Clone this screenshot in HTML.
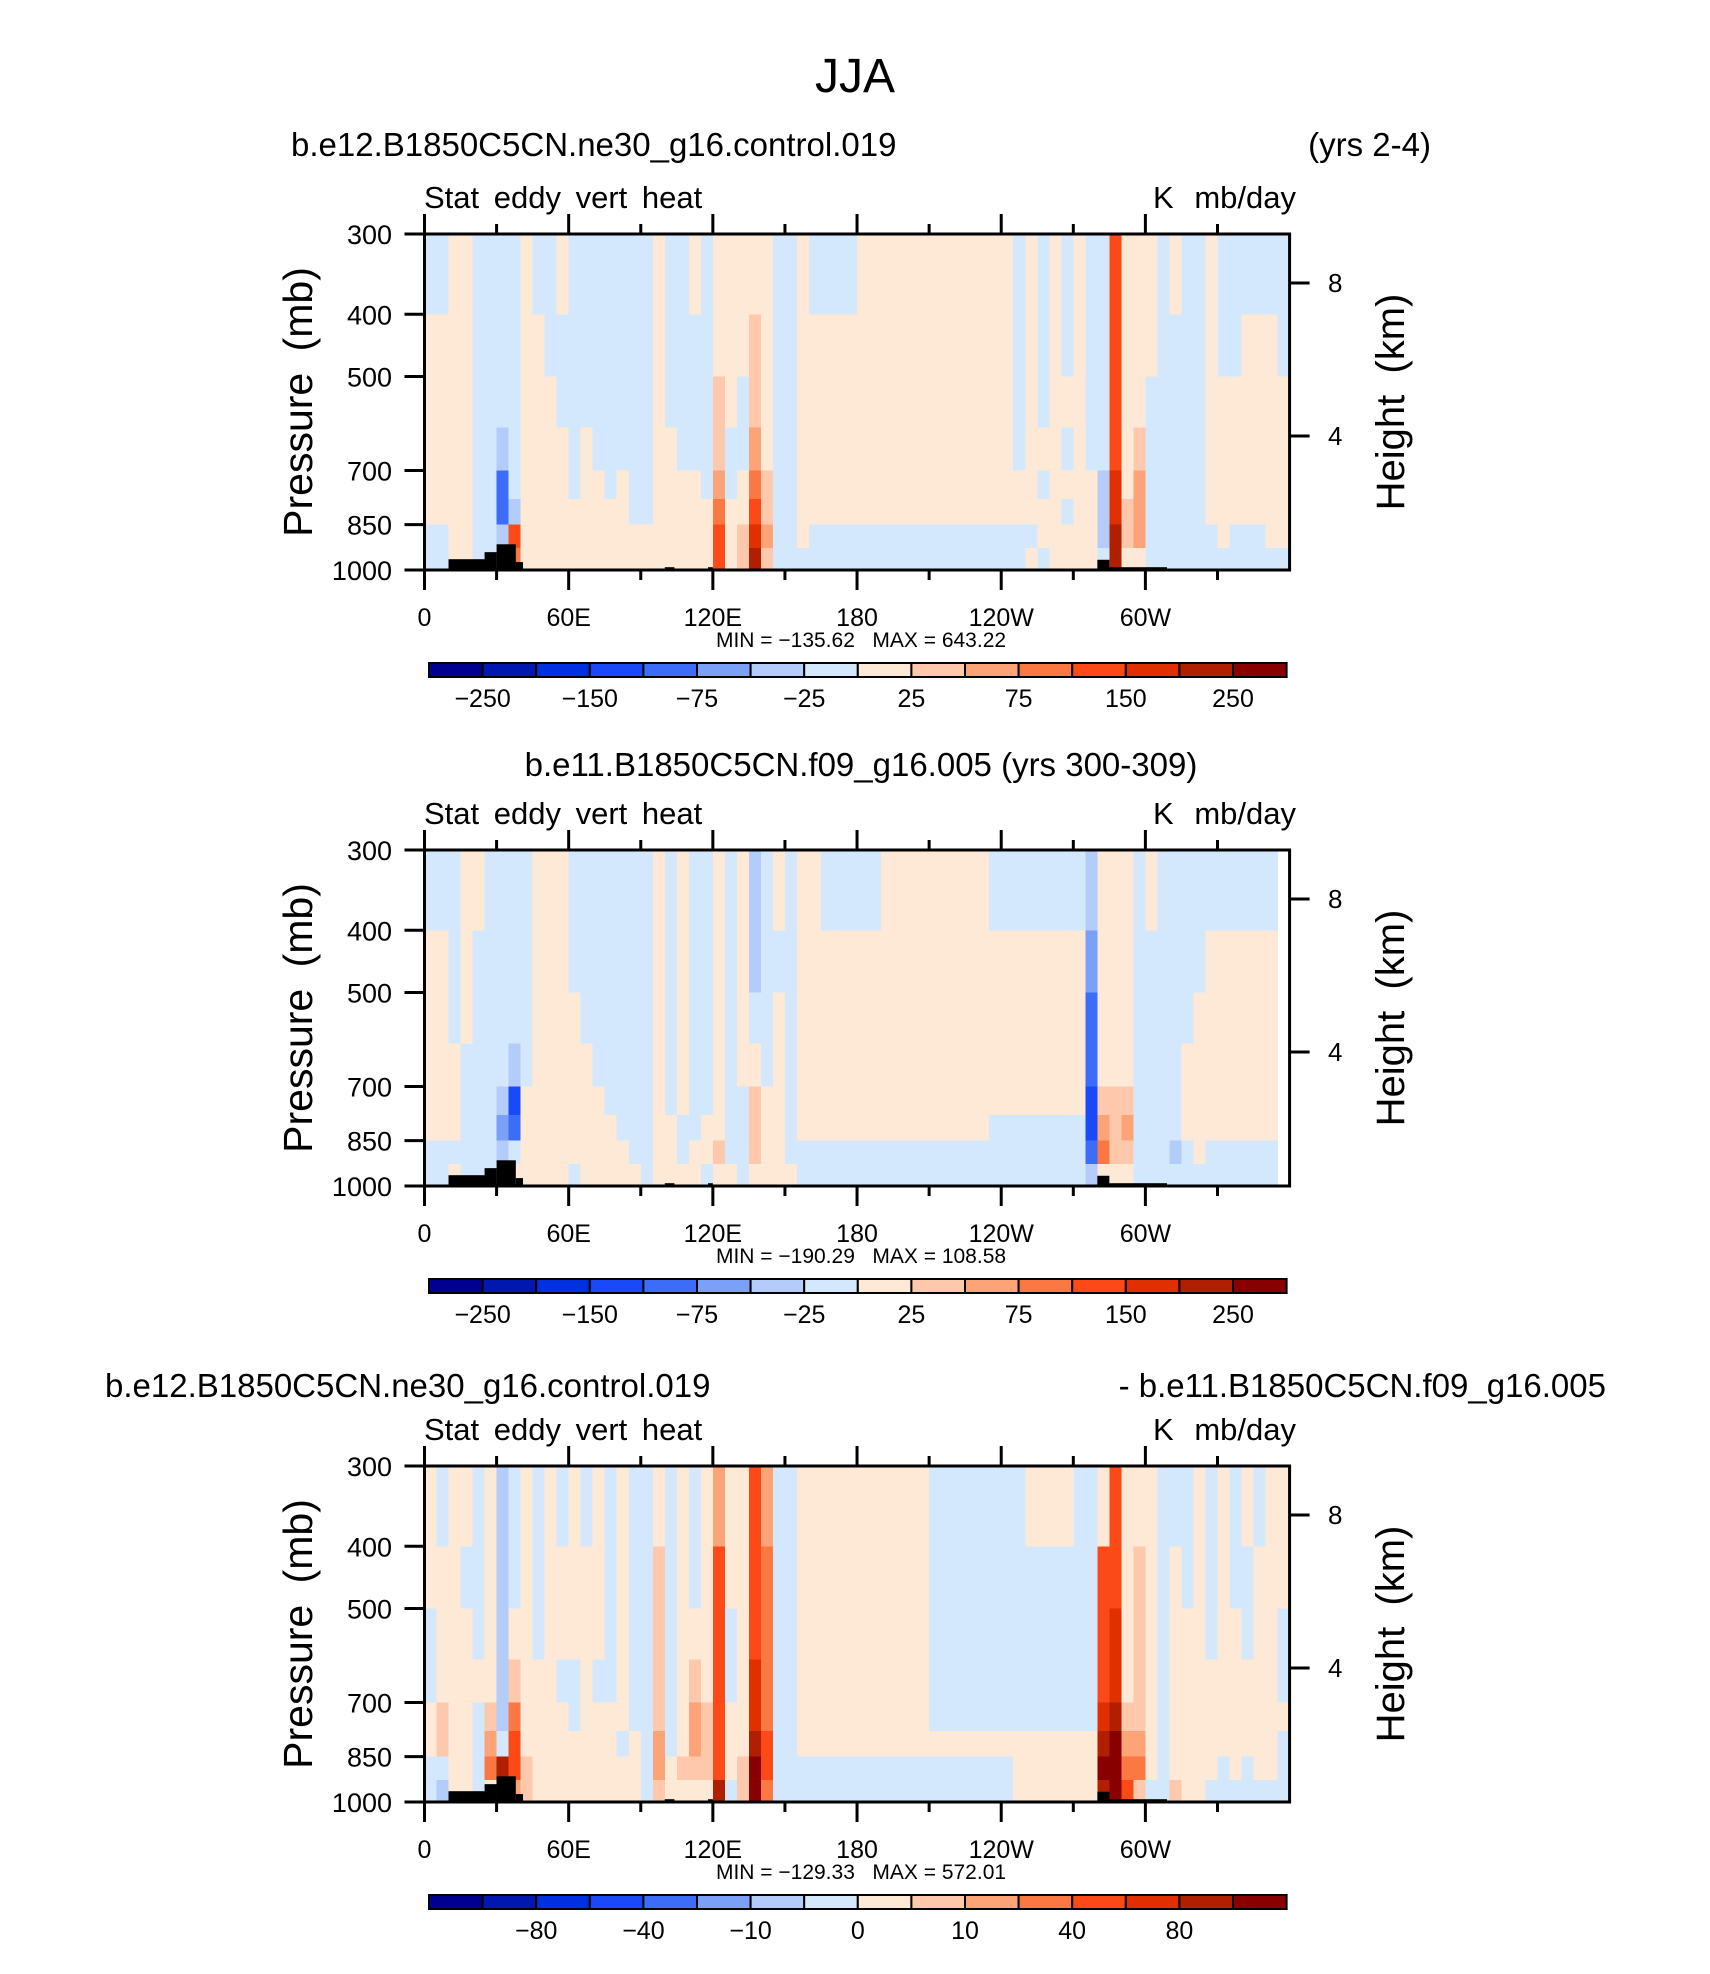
<!DOCTYPE html>
<html><head><meta charset="utf-8"><style>
html,body{margin:0;padding:0;background:#fff}
svg{display:block}
text{font-family:"Liberation Sans",sans-serif;fill:#000}
</style></head><body>
<svg id="chart" width="1710" height="1974" viewBox="0 0 1710 1974" xmlns="http://www.w3.org/2000/svg">
<text x="855" y="92" font-size="48" text-anchor="middle">JJA</text>
<text x="291" y="156" font-size="33">b.e12.B1850C5CN.ne30_g16.control.019</text>
<text x="1431" y="156" font-size="33" text-anchor="end">(yrs 2-4)</text>
<text x="861" y="776" font-size="33" text-anchor="middle">b.e11.B1850C5CN.f09_g16.005 (yrs 300-309)</text>
<text x="105" y="1397" font-size="33">b.e12.B1850C5CN.ne30_g16.control.019</text>
<text x="1606" y="1397" font-size="33" text-anchor="end">- b.e11.B1850C5CN.f09_g16.005</text>
<g id="panels"></g>
</svg>
<script>
// ---- data ----
const lonStep = 5;
const pressureEdges = [300,400,500,600,700,775,850,925,1000];
const pressureTicks = [300,400,500,700,850,1000];
const heightTicks = ["8","4"];
const lonTickValues = [0,60,120,180,240,300];
const lonTickLabels = ["0","60E","120E","180","120W","60W"];
const palette = ['#000090','#0018b0','#0030e0','#1a4af8','#3c6cf8','#7aa0f8','#b4ccfa','#d4e8fd','#fee9d6','#fdc8ac','#fca478','#fc7842','#fb4a17','#e03000','#b02000','#880000'];
const cbLabels1 = ["−250","−150","−75","−25","25","75","150","250"];
const cbLabels3 = ["−80","−40","−10","0","10","40","80"];
const minMax1 = ["−135.62","643.22"];
const minMax2 = ["−190.29","108.58"];
const minMax3 = ["−129.33","572.01"];
// topography: start lon, end lon, top pressure
const topoStart = [10,25,30,38,100,118,280,285];
const topoEnd = [26,30,38,41,104,120,285,309];
const topoTop = [962,938,912,972,990,990,964,990];
// class index per 5-degree column (top->bottom layers), hex digit 0-f
const panel1Cols = ["78888877","78888877","88888888","88888888","77777777","77777777","77764467","777776cb",
"88888888","78888888","77888888","87788888","77777888","77788888","77778888","77777888","77778888","77777788","77777788",
"88888888","77788888","77778888","87778888","77777888","8899abcc","88877888","88778899","899abcde","888899a9","77777777","77777777",
"88888887","78888877","78888877","78888877","78888877","88888877","88888877","88888877","88888877","88888877","88888877","88888877","88888877","88888877","88888877","88888877","88888877","88888877",
"77778877","88888878","77787887","88888888","77878788","88888888","77778888",
"77776667","ccccddee","88888998","8889aaa8","88777777","77777777","87777777","77777777","77777777",
"88888877","77888887","77888877","78888877","78888877","78888887","77888887"];
const panel2Cols = ["78888877","78888877","77788878","88877777","87777777","77777777","77776567","77763478",
"77778888","88888888","88888888","88888888","77888887","77788888","77778888","77777888","77777788","77777778","77777777",
"88888888","77777888","88888778","77777788","77777887","88888898","77777778","88887777","66789998","77778888","87888888","77777778",
"88888877","88888877","78888877","78888877","78888877","78888877","78888877","88888877","88888877","88888877","88888877","88888877","88888877","88888877","88888877","88888877",
"78888777","78888777","78888777","78888777","78888777","78888777","78888777","78888777",
"65443346","88889ab8","88889998","88889a98","77777777","87777777","77777777","77777767","77788877",
"77888887","78888877","78888877","78888877","78888877","78888877","78888877"];
const panel3Cols = ["88778877","78889976","88888888","87888888","77787777","88889ab8","666667ef","7789bcca",
"88888899","77788888","88888888","78878888","88877888","78888888","88878888","77778888","88888788","77777888","77777777",
"89999aa9","77777788","88888898","7789aa98","88889998","acccccce","88778887","88888899","cccddeff","abbbbccb","77777777","77777777",
"88888877","88888877","88888877","88888877","88888877","88888877","88888877","88888877","88888877","88888877","88888877",
"77777877","77777877","77777877","77777877","77777877","77777877","77777877",
"77777888","87777888","87777888","87777888","87777888","77777888","77777888",
"8cccdefe","ccddefff","88889abc","89999ab9","88888887","77777777","78888889","77888888","88888888",
"77788887","88888877","77888887","87788877","78888887","88888887","88778777"];

// ---- geometry ----
const X0 = 424.5, DEG = 2.403, PTOP = 234, PBOT = 570;
const panelOffsets = [0, 616, 1232];
const NS = "http://www.w3.org/2000/svg";
function xOf(lon){ return X0 + lon*DEG; }
function yOf(p, off){ return off + PTOP + (PBOT-PTOP)*Math.log(p/300)/Math.log(1000/300); }
function mk(tag, attrs, parent){ const e=document.createElementNS(NS,tag); for(const k in attrs) e.setAttribute(k,attrs[k]); parent.appendChild(e); return e; }

const root = document.getElementById('panels');
const allCols = [panel1Cols, panel2Cols, panel3Cols];
const allMinMax = [minMax1, minMax2, minMax3];
const allCb = [cbLabels1, cbLabels1, cbLabels3];
const cbStart = [1,1,2];

allCols.forEach((cols, pi) => {
  const off = panelOffsets[pi];
  const g = mk('g', {}, root);
  
  
  const cg = mk('g', {'shape-rendering':'crispEdges'}, g);
  
  
  cols.forEach((col, ci) => {
    for (let r = 0; r < pressureEdges.length-1; r++) {
      const cls = parseInt(col[r], 16);
      const x1 = xOf(ci*lonStep), x2 = xOf((ci+1)*lonStep);
      const y1 = yOf(pressureEdges[r], off), y2 = yOf(pressureEdges[r+1], off);
      const rc = mk('rect', {x:x1, y:y1, width:x2-x1+0.6, height:y2-y1+0.6, fill:palette[cls]}, cg);
      
      
    }
  });
  topoStart.forEach((s, i) => {
    const t = mk('rect', {x:xOf(s), y:yOf(topoTop[i], off), width:xOf(topoEnd[i])-xOf(s), height:yOf(1000,off)-yOf(topoTop[i],off), fill:'#000'}, g);
    
    
  });
  const fr = mk('rect', {x:X0, y:off+PTOP, width:360*DEG, height:PBOT-PTOP, fill:'none', stroke:'#000', 'stroke-width':3}, g);
  
  
  for (let lon = 0; lon <= 330; lon += 30) {
    const major = lon % 60 === 0, len = major ? 20 : 10, x = xOf(lon);
    mk('line', {x1:x, x2:x, y1:off+PTOP, y2:off+PTOP-len, stroke:'#000', 'stroke-width':3}, g);
    mk('line', {x1:x, x2:x, y1:off+PBOT, y2:off+PBOT+len, stroke:'#000', 'stroke-width':3}, g);
  }
  lonTickValues.forEach((lon, i) => {
    const t = mk('text', {x:xOf(lon), y:off+626, 'font-size':25, 'text-anchor':'middle'}, g);
    t.textContent = lonTickLabels[i];
    
    
  });
  pressureTicks.forEach(p => {
    const y = yOf(p, off);
    mk('line', {x1:X0-20, x2:X0, y1:y, y2:y, stroke:'#000', 'stroke-width':3}, g);
    const t = mk('text', {x:392, y:y+10, 'font-size':27, 'text-anchor':'end'}, g);
    t.textContent = String(p);
    
    
  });
  [283, 436].forEach((y, i) => {
    mk('line', {x1:X0+360*DEG, x2:X0+360*DEG+20, y1:off+y, y2:off+y, stroke:'#000', 'stroke-width':3}, g);
    const t = mk('text', {x:1328, y:off+y+9, 'font-size':26}, g);
    t.textContent = heightTicks[i];
    
    
  });
  let t = mk('text', {x:0, y:0, 'font-size':41, 'text-anchor':'middle', 'word-spacing':'10', transform:`translate(312 ${off+402}) rotate(-90)`}, g);
  t.textContent = 'Pressure (mb)';
  
  
  t = mk('text', {x:0, y:0, 'font-size':40, 'text-anchor':'middle', 'word-spacing':'10', transform:`translate(1404 ${off+402}) rotate(-90)`}, g);
  t.textContent = 'Height (km)';
  
  
  t = mk('text', {x:424, y:off+208, 'font-size':31, 'word-spacing':'6'}, g);
  t.textContent = 'Stat eddy vert heat';
  
  
  t = mk('text', {x:1296, y:off+208, 'font-size':31, 'text-anchor':'end', 'word-spacing':'12'}, g);
  t.textContent = 'K mb/day';
  
  
  t = mk('text', {x:861, y:off+647, 'font-size':21, 'text-anchor':'middle'}, g);
  t.style.whiteSpace='pre';
  t.textContent = 'MIN = ' + allMinMax[pi][0] + '   MAX = ' + allMinMax[pi][1];
  
  
  const cb = mk('g', {}, g);
  
  
  const CB0 = 429, CBW = 53.6, CBY = off+663, CBH = 14;
  palette.forEach((c, i) => {
    const r = mk('rect', {x:CB0+i*CBW, y:CBY, width:CBW, height:CBH, fill:c, stroke:'#000', 'stroke-width':2}, cb);
    
    
  });
  allCb[pi].forEach((lab, i) => {
    const tt = mk('text', {x:CB0 + (cbStart[pi] + 2*i)*CBW, y:CBY+44, 'font-size':25, 'text-anchor':'middle'}, cb);
    tt.textContent = lab;
    
    
  });
});
</script>
</body></html>
